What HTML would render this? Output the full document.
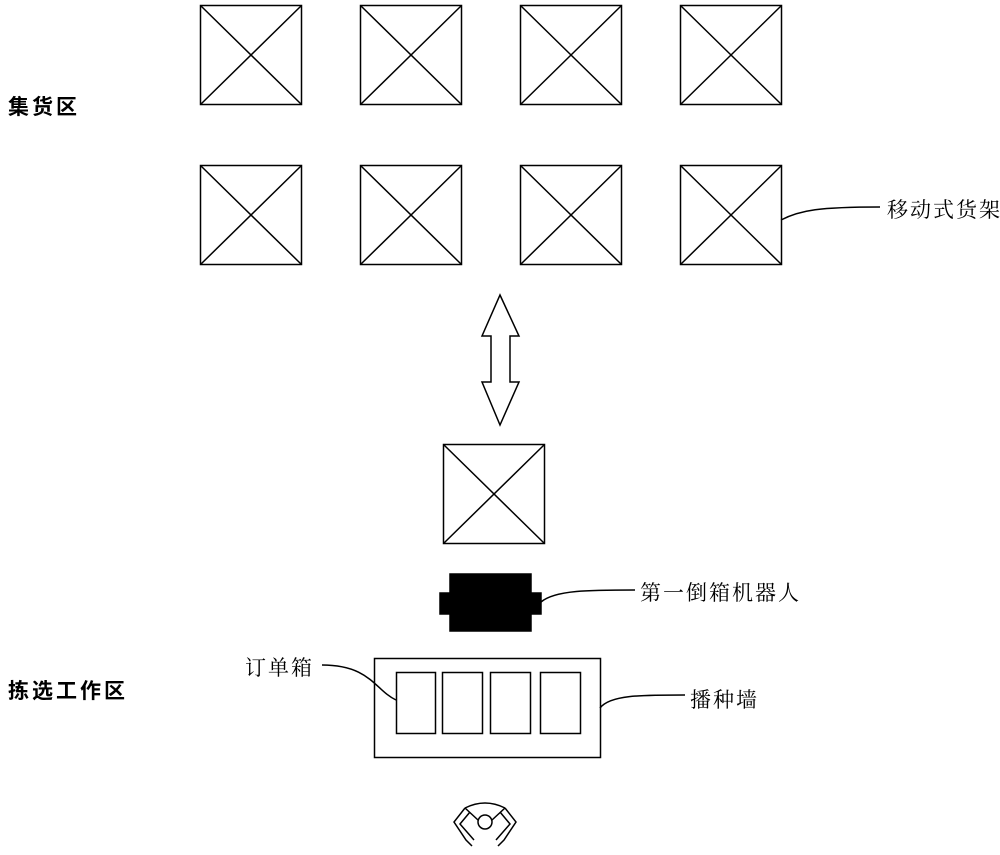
<!DOCTYPE html>
<html><head><meta charset="utf-8"><style>
body{margin:0;background:#fff;width:1000px;height:855px;overflow:hidden;position:relative;font-family:"Liberation Serif","Noto Serif CJK SC",serif}
.t{position:absolute;font-size:21px;letter-spacing:2px;color:#000;white-space:nowrap}
.b{font-weight:bold;font-family:"Liberation Sans","Noto Sans CJK SC",sans-serif;font-size:21px;letter-spacing:3px}
</style></head><body>
<svg width="1000" height="855" style="position:absolute;left:0;top:0" fill="none" stroke="#000" stroke-width="1.5">
<g id="s">
<rect x="200.5" y="5.5" width="101" height="99"/><line x1="200.5" y1="5.5" x2="301.5" y2="104.5"/><line x1="301.5" y1="5.5" x2="200.5" y2="104.5"/>
</g>
<use href="#s" x="160"/><use href="#s" x="320"/><use href="#s" x="480"/>
<use href="#s" y="160"/><use href="#s" x="160" y="160"/><use href="#s" x="320" y="160"/><use href="#s" x="480" y="160"/>
<use href="#s" x="243" y="439"/>
<polygon points="500,295 519,336 510,336 510,382 519,382 500,425 482,382 491,382 491,336 482,336"/>
<rect x="450" y="574" width="81" height="57" fill="#000"/>
<rect x="440" y="593" width="101" height="21" fill="#000"/>
<rect x="374.5" y="658.5" width="226" height="99"/>
<rect x="396.5" y="672.5" width="39" height="61"/>
<rect x="442.5" y="672.5" width="40" height="61"/>
<rect x="490.5" y="672.5" width="40" height="61"/>
<rect x="540.5" y="672.5" width="40" height="61"/>
<path d="M781,220 C800,210 820,207 880,207"/>
<path d="M541,602 C555,590 590,590 635,590"/>
<path d="M322,665 C370,665 375,690 396,700"/>
<path d="M600,708 C610,695 640,695 685,695"/>
<g stroke-width="1.5">
<path d="M465,808 Q485,798 505,808"/>
<circle cx="485" cy="822" r="7"/>
<path d="M465,808 L478,820 M505,808 L492,820"/>
<path d="M465,808 L454,822 L466,840 L472,846 M470,812 L460,824 L474,840"/>
<path d="M505,808 L516,822 L504,840 L498,846 M500,812 L510,824 L496,840"/>
</g>
</svg>
<div class="t b" style="left:8px;top:91px">集货区</div>
<div class="t b" style="left:8px;top:675px">拣选工作区</div>
<div class="t" style="left:887px;top:194px">移动式货架</div>
<div class="t" style="left:640px;top:577px">第一倒箱机器人</div>
<div class="t" style="left:245px;top:652px">订单箱</div>
<div class="t" style="left:690px;top:684px">播种墙</div>
</body></html>
